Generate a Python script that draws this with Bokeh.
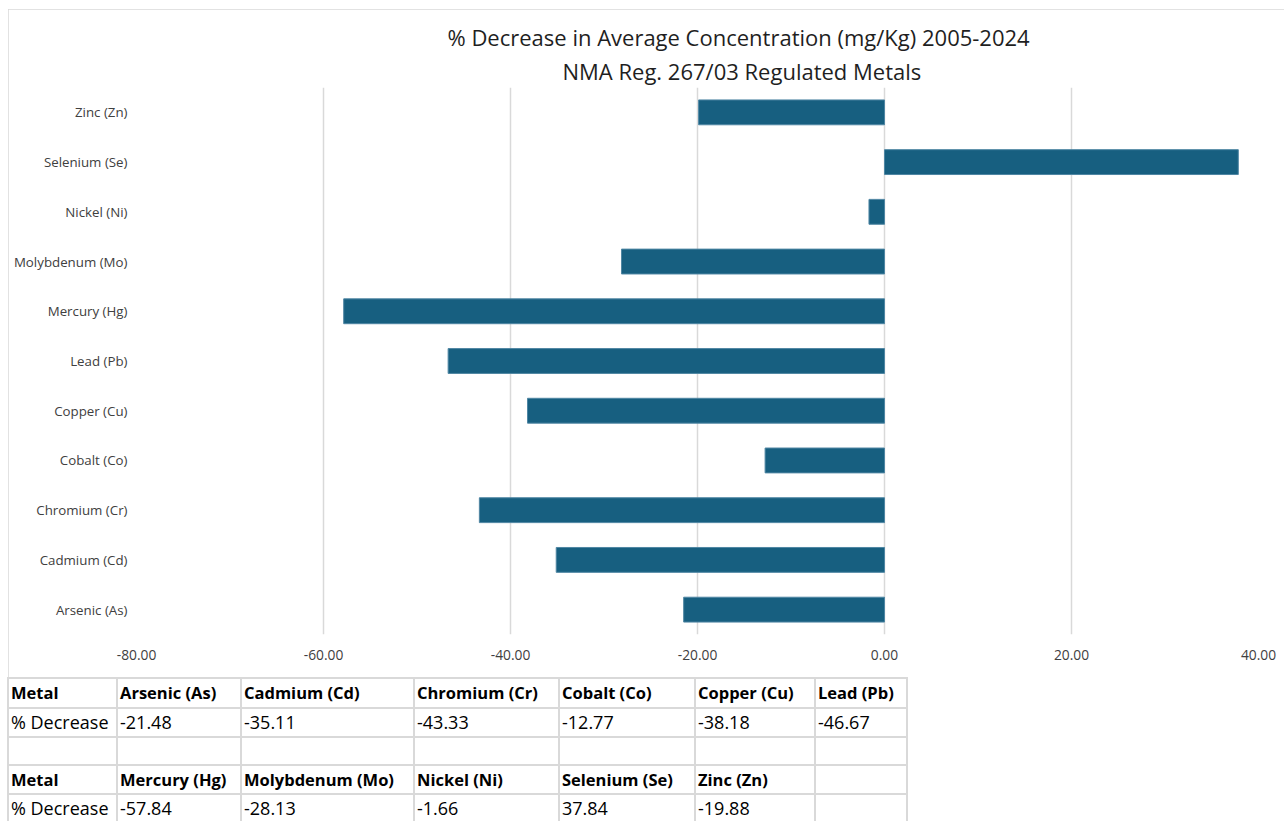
from bokeh.plotting import figure
from bokeh.layouts import column
from bokeh.models import FactorRange, Range1d, NumeralTickFormatter, FixedTicker, Title, Div
from bokeh.embed import file_html
from bokeh.resources import INLINE

# ---- data ----
metals = ["Arsenic (As)", "Cadmium (Cd)", "Chromium (Cr)", "Cobalt (Co)", "Copper (Cu)",
          "Lead (Pb)", "Mercury (Hg)", "Molybdenum (Mo)", "Nickel (Ni)", "Selenium (Se)", "Zinc (Zn)"]
pct_decrease = [-21.48, -35.11, -43.33, -12.77, -38.18, -46.67, -57.84, -28.13, -1.66, 37.84, -19.88]
x_ticks = [-80, -60, -40, -20, 0, 20, 40]
title_lines = ["% Decrease in Average Concentration (mg/Kg) 2005-2024", "NMA Reg. 267/03 Regulated Metals"]
table_row_labels = ["Metal", "% Decrease"]

BAR = "#175F80"
GRID = "#d9d9d9"
W = 1284
H1 = 678
H2 = 143

p = figure(width=W - 8, height=H1 - 9, y_range=FactorRange(*metals, range_padding=0),
           x_range=Range1d(x_ticks[0], x_ticks[-1]),
           output_backend="svg", toolbar_location=None, margin=(9, 0, 0, 8),
           min_border_left=128, min_border_right=26, min_border_top=78, min_border_bottom=44)
p.styles = {"outline": f"1px solid {GRID}", "outline-offset": "-1px"}
p.hbar(y=metals, right=pct_decrease, left=0, height=0.5, fill_color=BAR, line_color="#4f86a3", line_width=1)

p.xaxis.ticker = FixedTicker(ticks=x_ticks)
p.xaxis.formatter = NumeralTickFormatter(format="0.00")
for ax in (p.xaxis[0], p.yaxis[0]):
    ax.axis_line_color = None
    ax.major_tick_line_color = None
    ax.minor_tick_line_color = None
    ax.major_label_text_font = "Open Sans"
    ax.major_label_text_color = "#404040"
p.xaxis.major_label_text_font_size = "13.8px"
p.yaxis.major_label_text_font_size = "13.3px"
p.xaxis.major_label_standoff = 9
p.yaxis.major_label_standoff = 3
p.ygrid.grid_line_color = None
p.xgrid.grid_line_color = GRID
p.xgrid.grid_line_width = 1.5
p.outline_line_color = None

# two-line title: the default title is the outer line, the added one sits next to the plot
p.title.text = title_lines[0]
p.title.align = "left"
p.title.offset = 311
p.title.text_font = "Open Sans"
p.title.text_font_size = "22px"
p.title.text_font_style = "normal"
p.title.text_color = "#1f1f1f"
p.title.standoff = 0
p.add_layout(Title(text=title_lines[1], align="left", offset=426, text_font="Open Sans",
                   text_font_size="22px", text_font_style="normal", text_color="#1f1f1f",
                   standoff=4), "above")

# ---- table (HTML) ----
col_widths = [109, 124, 173, 145, 136, 120, 92]
blocks = [(metals[:6], pct_decrease[:6]), (metals[6:], pct_decrease[6:])]

def cells(items, bold):
    out = []
    for k, w in enumerate(col_widths):
        txt = items[k] if k < len(items) else ""
        style = "font-weight:700;font-size:16.5px" if bold else "font-weight:400;font-size:18px"
        out.append(f'<td style="width:{w}px;{style}">{txt}</td>')
    return "".join(out)

rows = []
for bi, (names, vals) in enumerate(blocks):
    if bi > 0:
        rows.append("<tr>" + cells([], False) + "</tr>")
    rows.append("<tr>" + cells([table_row_labels[0]] + names, True) + "</tr>")
    rows.append("<tr>" + cells([table_row_labels[1]] + [f"{v:.2f}" for v in vals], False) + "</tr>")

html = f"""
<table style="border-collapse:collapse;table-layout:fixed;margin:-1px 0 0 7px;
font-family:'Open Sans';color:#000;">
<colgroup>{''.join(f'<col style="width:{w}px">' for w in col_widths)}</colgroup>
{''.join(rows)}
</table>
<style>
td {{ border:2px solid {GRID}; padding:0 0 0 2px; height:27.5px; line-height:27.5px;
     white-space:nowrap; overflow:hidden; box-sizing:border-box; }}
</style>
"""
t = Div(text=html, width=W, height=H2, margin=(0, 0, 0, 0))

layout = column(p, t, spacing=0)
open("out.html", "w").write(file_html(layout, INLINE))
